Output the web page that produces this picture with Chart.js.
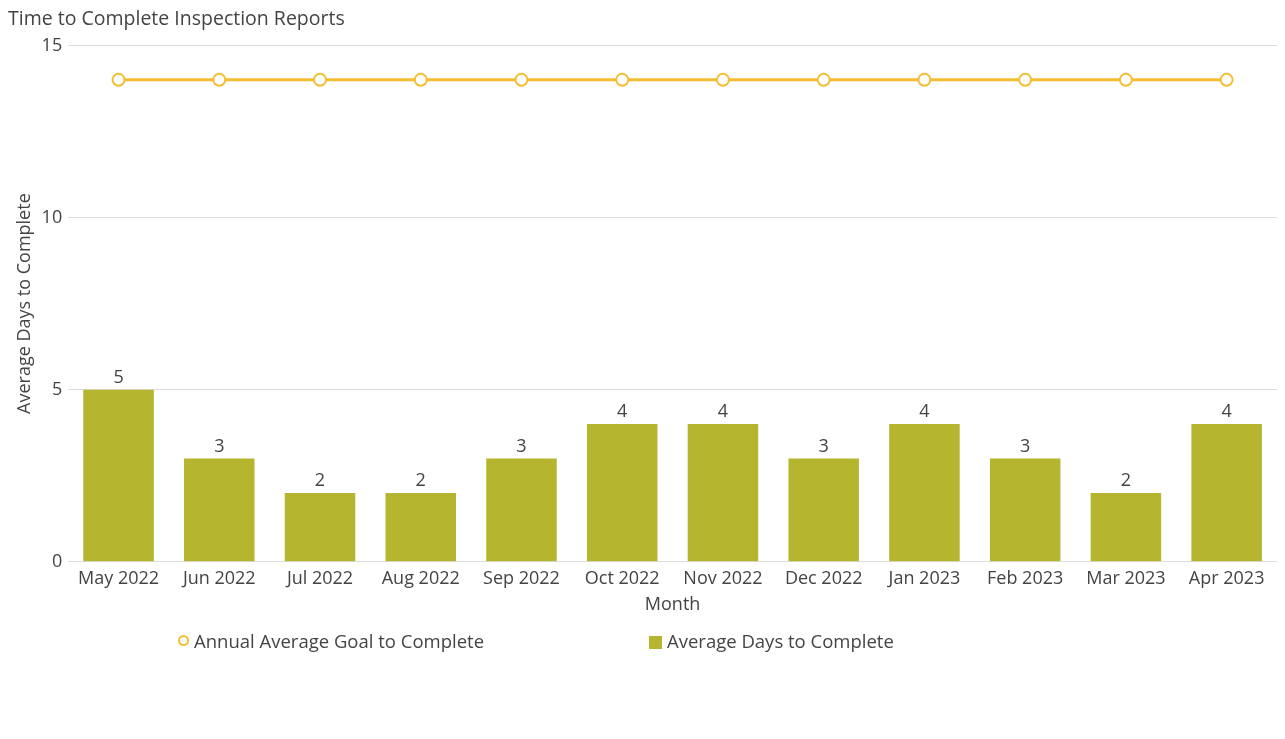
<!DOCTYPE html>
<html>
<head>
<meta charset="utf-8">
<script src="https://cdn.jsdelivr.net/npm/chart.js@4"></script>
<style>
  body { margin: 0; background: #fff; font-family: "Open Sans", sans-serif; }
  #wrap { position: relative; width: 1285px; height: 739px; }
  #legend { position: absolute; top: 629px; left: 0; width: 1285px; height: 24px; font-size: 18.5px; color: #444; }
  .item { position: absolute; top: 0; line-height: 24px; white-space: nowrap; }
  .dot { display: inline-block; width: 7px; height: 7px; border: 2px solid #f4bd32; border-radius: 50%; margin-right: 5px; vertical-align: 2px; }
  .sq { display: inline-block; width: 13px; height: 13px; background: #b5b52f; margin-right: 5px; vertical-align: -1px; }
</style>
</head>
<body>
<div id="wrap">
  <canvas id="myChart" width="1285" height="739"></canvas>
  <div id="legend">
    <span class="item" style="left:178px"><span class="dot"></span>Annual Average Goal to Complete</span>
    <span class="item" style="left:649px"><span class="sq"></span>Average Days to Complete</span>
  </div>
</div>
<script>
const months = ['May 2022','Jun 2022','Jul 2022','Aug 2022','Sep 2022','Oct 2022','Nov 2022','Dec 2022','Jan 2023','Feb 2023','Mar 2023','Apr 2023'];
const avgDays = [5, 3, 2, 2, 3, 4, 4, 3, 4, 3, 2, 4];
const goalDays = [14, 14, 14, 14, 14, 14, 14, 14, 14, 14, 14, 14];
const yTicks = [0, 5, 10, 15];

// labels on top of bars
const barLabels = {
  id: 'barLabels',
  afterDatasetsDraw(chart) {
    const ctx = chart.ctx;
    const meta = chart.getDatasetMeta(1);
    ctx.save();
    ctx.font = '18px "Open Sans"';
    ctx.fillStyle = '#444';
    ctx.textAlign = 'center';
    ctx.textBaseline = 'bottom';
    meta.data.forEach((bar, i) => {
      ctx.fillText(avgDays[i], bar.x, bar.y - 3);
    });
    ctx.restore();
  }
};

Chart.defaults.font.family = '"Open Sans", sans-serif';
Chart.defaults.color = '#444';

const data = {
  labels: months,
  datasets: [{
    type: 'line',
    label: 'Annual Average Goal to Complete',
    data: goalDays,
    borderColor: '#f4bd32',
    borderWidth: 3,
    pointRadius: 6,
    pointBorderWidth: 2,
    pointBackgroundColor: '#fff',
    pointBorderColor: '#f4bd32',
    order: 0
  }, {
    type: 'bar',
    label: 'Average Days to Complete',
    data: avgDays,
    backgroundColor: '#b5b52f',
    barPercentage: 0.7,
    categoryPercentage: 1,
    order: 1
  }]
};

const config = {
  data: data,
  options: {
    responsive: false,
    animation: false,
    layout: { padding: { left: 8, right: 7, bottom: 119 } },
    plugins: {
      legend: { display: false },
      tooltip: { enabled: false },
      title: {
        display: true,
        text: 'Time to Complete Inspection Reports',
        align: 'start',
        font: { size: 19.5, weight: 'normal' },
        color: '#444',
        padding: { top: 8, bottom: 14 }
      }
    },
    scales: {
      x: {
        grid: { display: false },
        border: { display: false },
        ticks: { font: { size: 18 }, color: '#444', maxRotation: 0, padding: -2 },
        title: { display: true, text: 'Month', font: { size: 18 }, color: '#444', padding: { top: 7 } }
      },
      y: {
        min: 0,
        max: 15,
        afterBuildTicks: axis => { axis.ticks = yTicks.map(v => ({ value: v })); },
        grid: { color: '#ddd', drawTicks: false, lineWidth: 1 },
        border: { display: false },
        ticks: { font: { size: 18 }, color: '#444', padding: 6 },
        title: { display: true, text: 'Average Days to Complete', font: { size: 18 }, color: '#444', padding: { top: 6, bottom: 0 } }
      }
    }
  },
  plugins: [barLabels]
};

const myChart = new Chart(document.getElementById('myChart'), config);
</script>
</body>
</html>
